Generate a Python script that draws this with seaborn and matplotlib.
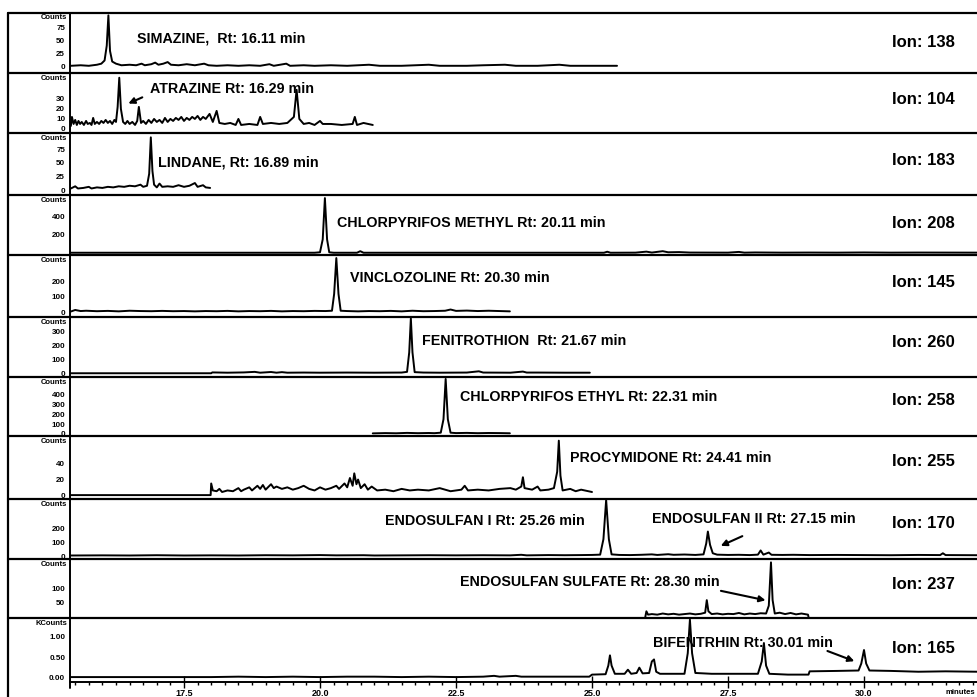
import numpy as np
import pandas as pd
import matplotlib
matplotlib.use("Agg")
import matplotlib.pyplot as plt
from matplotlib.lines import Line2D
import seaborn as sns

sns.set_style("white")
plt.rcParams['font.family'] = ['Liberation Sans', 'DejaVu Sans']
plt.rcParams['text.color'] = 'black'
plt.rcParams['xtick.color'] = 'black'
plt.rcParams['ytick.color'] = 'black'

# ---- data (time in min, intensity) ----
simazine_t = [15.42, 15.6, 15.75, 15.9, 15.98, 16.04, 16.08, 16.11, 16.14, 16.18, 16.25, 16.35, 16.5, 16.62,
              16.72, 16.78, 16.9, 16.97, 17.03, 17.12, 17.2, 17.26, 17.4, 17.55, 17.7, 17.87, 17.95, 18.1,
              18.3, 18.5, 18.7, 18.9, 19.07, 19.15, 19.38, 19.45, 19.7, 19.9, 20.2, 20.5, 20.9, 21.1, 21.5,
              22.0, 22.2, 22.7, 23.0, 23.4, 23.6, 24.0, 24.4, 24.6, 25.0, 25.46]
simazine_y = [2, 3, 2, 4, 6, 12, 40, 97, 30, 10, 6, 3, 4, 3, 6, 3, 5, 8, 4, 6, 9, 4, 3, 5, 3, 6, 3, 2,
              3, 2, 3, 2, 5, 2, 6, 2, 3, 2, 3, 2, 4, 2, 2, 4, 2, 2, 3, 4, 2, 2, 4, 2, 2, 2]

atrazine_t = [15.42, 15.44, 15.47, 15.50, 15.53, 15.56, 15.59, 15.62, 15.66, 15.70, 15.73, 15.77, 15.80,
              15.83, 15.86, 15.90, 15.94, 15.98, 16.02, 16.06, 16.10, 16.14, 16.18, 16.22, 16.25, 16.28,
              16.31, 16.34, 16.38, 16.42, 16.46, 16.50, 16.55, 16.60, 16.64, 16.67, 16.71, 16.75, 16.80,
              16.85, 16.90, 16.95, 17.00, 17.05, 17.10, 17.15, 17.20, 17.25, 17.30, 17.35, 17.40, 17.45,
              17.50, 17.55, 17.60, 17.65, 17.70, 17.75, 17.80, 17.85, 17.90, 17.97, 18.03, 18.10, 18.15,
              18.25, 18.35, 18.45, 18.50, 18.55, 18.7, 18.85, 18.9, 18.95, 19.1, 19.25, 19.4, 19.52, 19.57,
              19.62, 19.7, 19.8, 19.9, 20.0, 20.05, 20.2, 20.4, 20.6, 20.64, 20.68, 20.8, 20.97]
atrazine_y = [3, 12, 5, 9, 4, 8, 5, 7, 4, 8, 5, 6, 4, 11, 5, 7, 5, 8, 6, 9, 6, 8, 5, 9, 7, 22, 51, 20, 7,
              5, 8, 5, 7, 4, 8, 22, 6, 8, 5, 9, 6, 10, 7, 9, 6, 11, 7, 10, 8, 11, 9, 12, 8, 11, 9, 12, 10,
              13, 9, 12, 10, 15, 7, 18, 6, 5, 6, 4, 10, 4, 5, 4, 12, 5, 6, 5, 6, 12, 39, 10, 5, 6, 4, 8, 5,
              5, 4, 5, 12, 4, 6, 4]

lindane_t = [15.42, 15.5, 15.55, 15.65, 15.75, 15.8, 15.9, 16.0, 16.1, 16.2, 16.3, 16.4, 16.5, 16.6, 16.7,
             16.75, 16.82, 16.86, 16.89, 16.92, 16.95, 17.0, 17.05, 17.1, 17.2, 17.3, 17.4, 17.5, 17.6,
             17.7, 17.75, 17.85, 17.9, 17.98]
lindane_y = [3, 7, 3, 4, 6, 3, 5, 4, 6, 5, 7, 6, 8, 7, 10, 6, 8, 30, 97, 35, 10, 5, 12, 6, 7, 6, 9, 6, 8,
             13, 6, 9, 5, 4]

cmethyl_t = [15.42, 19.9, 20.0, 20.05, 20.09, 20.13, 20.17, 20.25, 20.68, 20.74, 20.8, 22.0, 24.5, 25.22,
             25.28, 25.34, 25.8, 26.0, 26.1, 26.3, 26.4, 26.6, 26.8, 27.5, 27.7, 27.8, 28.0, 28.5, 29.0,
             29.5, 30.0, 30.5, 31.0, 32.1]
cmethyl_y = [3, 3, 8, 150, 605, 150, 8, 3, 3, 20, 3, 3, 3, 3, 14, 3, 4, 15, 5, 20, 8, 10, 5, 4, 12, 4, 6,
             4, 5, 4, 6, 4, 5, 4]

vinclo_t = [15.42, 15.5, 15.6, 15.7, 15.9, 16.1, 16.3, 16.5, 16.7, 16.9, 17.1, 17.3, 17.5, 17.7, 17.9,
            18.1, 18.3, 18.5, 18.7, 18.9, 19.1, 19.3, 19.5, 19.7, 19.9, 20.1, 20.22, 20.26, 20.30, 20.34,
            20.38, 20.5, 20.7, 20.9, 21.1, 21.3, 21.5, 21.7, 21.9, 22.1, 22.3, 22.4, 22.5, 22.7, 22.9,
            23.1, 23.3, 23.49]
vinclo_y = [5, 15, 8, 10, 7, 9, 6, 10, 8, 7, 9, 7, 8, 6, 8, 7, 9, 6, 8, 7, 9, 6, 8, 7, 9, 8, 10, 120, 355,
            120, 10, 8, 6, 8, 7, 9, 6, 10, 7, 8, 10, 18, 9, 11, 8, 10, 8, 6]

fenit_t = [15.42, 18.0, 18.02, 18.3, 18.6, 18.8, 18.9, 19.1, 19.2, 19.3, 19.4, 19.7, 20.0, 20.5, 21.0,
           21.5, 21.6, 21.64, 21.67, 21.70, 21.74, 21.9, 22.2, 22.7, 22.92, 23.0, 23.5, 23.73, 23.8,
           24.0, 24.5, 24.96]
fenit_y = [0, 0, 6, 4, 6, 10, 4, 9, 4, 8, 4, 5, 4, 5, 4, 5, 10, 150, 395, 150, 8, 5, 4, 5, 14, 5, 4, 12, 5,
           5, 4, 4]

cethyl_t = [20.97, 21.2, 21.4, 21.6, 21.8, 22.0, 22.1, 22.22, 22.27, 22.31, 22.35, 22.40, 22.5, 22.7,
            22.9, 23.1, 23.3, 23.49]
cethyl_y = [5, 8, 6, 10, 7, 9, 7, 12, 150, 565, 150, 12, 8, 10, 7, 9, 8, 6]

procy_t = [15.42, 17.99, 18.0, 18.03, 18.1, 18.15, 18.2, 18.3, 18.4, 18.5, 18.55, 18.6, 18.7, 18.75,
           18.85, 18.9, 18.95, 19.0, 19.1, 19.15, 19.2, 19.3, 19.4, 19.5, 19.6, 19.7, 19.8, 19.9, 20.0,
           20.1, 20.2, 20.3, 20.35, 20.45, 20.5, 20.55, 20.6, 20.63, 20.67, 20.7, 20.75, 20.82, 20.88,
           20.95, 21.05, 21.2, 21.35, 21.5, 21.65, 21.8, 22.0, 22.2, 22.4, 22.6, 22.66, 22.72, 22.9,
           23.1, 23.3, 23.5, 23.6, 23.7, 23.73, 23.76, 23.9, 24.0, 24.05, 24.2, 24.3, 24.36, 24.39,
           24.42, 24.46, 24.6, 24.7, 24.8, 25.0]
procy_y = [0, 0, 15, 6, 5, 8, 4, 6, 5, 9, 5, 7, 10, 6, 12, 8, 13, 7, 14, 9, 11, 8, 10, 7, 9, 12, 8, 6,
           10, 7, 9, 12, 8, 15, 10, 22, 12, 28, 14, 20, 9, 14, 7, 11, 6, 7, 5, 8, 6, 7, 6, 9, 5, 7, 12,
           6, 7, 6, 8, 9, 7, 11, 23, 9, 7, 11, 6, 7, 9, 30, 70, 25, 6, 8, 5, 7, 4]

endo_t = [15.42, 16.0, 16.5, 17.0, 17.5, 18.0, 18.5, 19.0, 19.5, 20.0, 20.3, 20.8, 21.0, 21.5, 22.0,
          22.5, 23.0, 23.5, 23.7, 23.8, 24.2, 24.5, 24.8, 25.0, 25.15, 25.21, 25.26, 25.31, 25.36, 25.5,
          25.7, 25.9, 26.1, 26.2, 26.4, 26.5, 26.7, 26.9, 27.05, 27.1, 27.13, 27.17, 27.22, 27.3, 27.5,
          27.7, 27.9, 28.05, 28.1, 28.15, 28.25, 28.3, 28.5, 28.7, 29.0, 29.5, 30.0, 30.5, 31.0, 31.4,
          31.45, 31.5, 32.1]
endo_y = [4, 5, 4, 6, 4, 5, 4, 6, 5, 7, 5, 6, 4, 5, 6, 5, 6, 5, 9, 5, 7, 6, 7, 8, 10, 120, 400, 120, 12,
          8, 7, 9, 12, 8, 13, 9, 11, 8, 12, 90, 175, 80, 20, 10, 8, 9, 7, 10, 40, 10, 25, 9, 8, 9, 7, 8,
          7, 6, 8, 7, 20, 7, 6]

sulf_t = [25.98, 26.0, 26.03, 26.1, 26.2, 26.3, 26.4, 26.5, 26.6, 26.7, 26.8, 26.9, 27.0, 27.08, 27.11,
          27.14, 27.2, 27.3, 27.4, 27.5, 27.6, 27.7, 27.8, 27.9, 28.0, 28.1, 28.2, 28.25, 28.29, 28.32,
          28.36, 28.45, 28.55, 28.65, 28.75, 28.85, 28.97, 28.98]
sulf_y = [0, 20, 8, 10, 8, 12, 9, 11, 8, 10, 12, 9, 11, 15, 60, 20, 10, 12, 9, 11, 10, 14, 9, 12, 10, 13,
          12, 40, 195, 60, 12, 15, 10, 14, 9, 12, 8, 0]

bifen_t = [15.42, 18.0, 18.5, 19.0, 19.5, 20.0, 20.5, 21.0, 21.5, 22.0, 22.5, 23.0, 23.2, 23.3, 23.6, 23.7,
           24.5, 24.95, 25.0, 25.25, 25.30, 25.33, 25.36, 25.42, 25.6, 25.66, 25.72, 25.82, 25.87, 25.93,
           26.05, 26.1, 26.14, 26.18, 26.25, 26.5, 26.7, 26.76, 26.8, 26.84, 26.9, 27.2, 27.6, 28.05,
           28.12, 28.16, 28.2, 28.26, 28.6, 28.98, 29.0, 29.5, 29.9, 29.95, 30.0, 30.04, 30.1, 30.5, 31.0,
           31.5, 32.1]
bifen_y = [0.02, 0.02, 0.03, 0.02, 0.03, 0.02, 0.03, 0.03, 0.02, 0.03, 0.02, 0.03, 0.05, 0.03, 0.05, 0.03,
           0.03, 0.03, 0.08, 0.09, 0.3, 0.55, 0.3, 0.1, 0.1, 0.2, 0.1, 0.12, 0.25, 0.11, 0.12, 0.4, 0.45,
           0.15, 0.1, 0.1, 0.1, 0.6, 1.42, 0.6, 0.12, 0.1, 0.1, 0.1, 0.4, 0.85, 0.3, 0.1, 0.08, 0.08, 0.16,
           0.17, 0.18, 0.35, 0.68, 0.35, 0.18, 0.17, 0.15, 0.16, 0.15]

traces = [(simazine_t, simazine_y), (atrazine_t, atrazine_y), (lindane_t, lindane_y),
          (cmethyl_t, cmethyl_y), (vinclo_t, vinclo_y), (fenit_t, fenit_y), (cethyl_t, cethyl_y),
          (procy_t, procy_y), (endo_t, endo_y), (sulf_t, sulf_y), (bifen_t, bifen_y)]

ions = [138, 104, 183, 208, 145, 260, 258, 255, 170, 237, 165]
yticks = [[0, 25, 50, 75], [0, 10, 20, 30], [0, 25, 50, 75], [200, 400], [0, 100, 200],
          [0, 100, 200, 300], [0, 100, 200, 300, 400], [0, 20, 40], [0, 100, 200], [50, 100],
          [0, 0.5, 1.0]]
ylims = [(-11, 102), (-4, 56), (-9, 105), (-22, 639), (-31, 375), (-27, 405), (-22, 585), (-5, 76),
         (-21, 407), (-4, 207), (-0.1, 1.46)]

# compound labels: (text, x in min, y as panel fraction)
labels = [[("SIMAZINE,  Rt: 16.11 min", 16.64, 0.57)],
          [("ATRAZINE Rt: 16.29 min", 16.88, 0.73)],
          [("LINDANE, Rt: 16.89 min", 17.02, 0.53)],
          [("CHLORPYRIFOS METHYL Rt: 20.11 min", 20.31, 0.53)],
          [("VINCLOZOLINE Rt: 20.30 min", 20.55, 0.63)],
          [("FENITROTHION  Rt: 21.67 min", 21.875, 0.6)],
          [("CHLORPYRIFOS ETHYL Rt: 22.31 min", 22.57, 0.66)],
          [("PROCYMIDONE Rt: 24.41 min", 24.6, 0.65)],
          [("ENDOSULFAN I Rt: 25.26 min", 21.19, 0.63), ("ENDOSULFAN II Rt: 27.15 min", 26.1, 0.67)],
          [("ENDOSULFAN SULFATE Rt: 28.30 min", 22.57, 0.61)],
          [("BIFENTRHIN Rt: 30.01 min", 26.12, 0.61)]]
ion_y = [0.5, 0.55, 0.55, 0.52, 0.55, 0.57, 0.61, 0.6, 0.6, 0.56, 0.53]

# arrows: panel, tail (x, frac), head (x, frac)
arrows = [(1, (16.78, 0.61), (16.43, 0.47)),
          (8, (27.81, 0.40), (27.32, 0.20)),
          (9, (27.32, 0.47), (28.24, 0.29)),
          (10, (29.28, 0.50), (29.87, 0.31))]

# ---- layout (pixel positions of the panel borders) ----
W, H = 978, 697
borders = [12.7, 72.7, 133, 195, 255, 317, 377, 436, 499, 559, 618, 682]
x_left = 70
xlim = (20 + (x_left - 320) / 54.4, 20 + (W - 320) / 54.4)

fig = plt.figure(figsize=(W / 100, H / 100), dpi=100)
axes = []
for i in range(11):
    top, bot = borders[i], borders[i + 1]
    ax = fig.add_axes([x_left / W, 1 - bot / H, (W - x_left) / W, (bot - top) / H])
    axes.append(ax)
    t, y = traces[i]
    df = pd.DataFrame({"t": t, "y": y})
    sns.lineplot(data=df, x="t", y="y", ax=ax, color="black", lw=1.4, estimator=None, sort=False)
    ax.set_xlim(*xlim)
    ax.set_ylim(*ylims[i])
    ax.set_xlabel("")
    ax.set_ylabel("")
    for s in ["top", "right", "bottom"]:
        ax.spines[s].set_visible(False)
    ax.spines["left"].set_linewidth(1.4)
    ax.spines["left"].set_color("black")
    ax.set_yticks(yticks[i])
    if i == 10:
        ax.set_yticklabels(["%.2f" % v for v in yticks[i]])
    else:
        ax.set_yticklabels([str(v) for v in yticks[i]])
    ax.tick_params(axis="y", direction="out", length=2, width=0.8, pad=1.5,
                   labelsize=5.8, colors="black")
    for lab in ax.get_yticklabels():
        lab.set_fontweight("bold")
    ax.text(-0.003, 0.97, "KCounts" if i == 10 else "Counts", transform=ax.transAxes,
            ha="right", va="top", fontsize=5.5, fontweight="bold")
    tr = ax.get_xaxis_transform()
    for txt, tx, ty in labels[i]:
        ax.text(tx, ty, txt, transform=tr, ha="left", va="center", fontsize=10.3, fontweight="bold")
    ax.text(30.51, ion_y[i], "Ion: %d" % ions[i], transform=tr, ha="left", va="center",
            fontsize=12, fontweight="bold")
    if i < 10:
        ax.set_xticks([])

for p, (tx, ty), (hx, hy) in arrows:
    ax = axes[p]
    ax.annotate("", xy=(hx, hy), xytext=(tx, ty), xycoords=ax.get_xaxis_transform(),
                arrowprops=dict(arrowstyle="-|>", color="black", lw=1.5, mutation_scale=9))

# bottom time axis
ax = axes[-1]
ax.spines["bottom"].set_visible(True)
ax.spines["bottom"].set_linewidth(1.4)
ax.spines["bottom"].set_color("black")
ax.set_xticks([17.5, 20.0, 22.5, 25.0, 27.5, 30.0])
ax.set_xticklabels(["17.5", "20.0", "22.5", "25.0", "27.5", "30.0"])
ax.set_xticks(np.arange(15.5, 32.1, 0.25), minor=True)
ax.tick_params(axis="x", which="major", direction="inout", length=8, width=1.0, pad=1,
               labelsize=6.5, colors="black", bottom=True)
ax.tick_params(axis="x", which="minor", direction="out", length=2, width=1.0, bottom=True)
for lab in ax.get_xticklabels():
    lab.set_fontweight("bold")
fig.text(946 / W, 1 - 692 / H, "minutes", fontsize=5.6, fontweight="bold", va="center", ha="left")

# frame lines between panels
for yb in borders[:-1]:
    fig.add_artist(Line2D([8 / W, 1], [1 - yb / H, 1 - yb / H], color="black", lw=1.6))
fig.add_artist(Line2D([8 / W, 8 / W], [1 - borders[0] / H, 0], color="black", lw=1.6))
fig.add_artist(Line2D([x_left / W, x_left / W], [1 - borders[-1] / H, 1 - 688 / H], color="black", lw=1.4))

fig.savefig("out.png", dpi=100)
